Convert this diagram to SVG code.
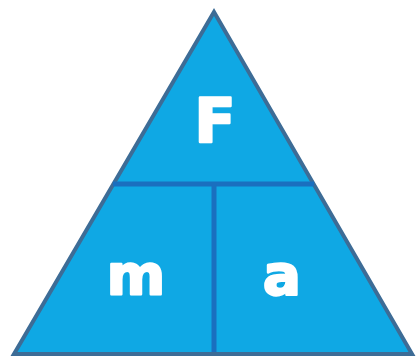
<svg xmlns="http://www.w3.org/2000/svg" width="419" height="356" viewBox="0 0 419 356">
<style>
.part{fill:#0FA8E4;}
.lbl{font-family:"DejaVu Sans",sans-serif;font-weight:bold;fill:#FFFFFF;stroke:#FFFFFF;stroke-width:2.5;stroke-linejoin:round;text-anchor:middle;}
.div{stroke:#1A6FBF;stroke-width:5;fill:none;}
</style>
<rect width="419" height="356" fill="#FFFFFF"/>
<g id="triangle">
<polygon class="part" points="214,12 412,354 14,354" stroke="#3D6C96" stroke-width="4" stroke-linejoin="miter"/>
</g>
<g id="connectors">
<line class="div" x1="113" y1="184" x2="314" y2="184"/>
<line class="div" x1="214" y1="184" x2="214" y2="354"/>
<line x1="14" y1="354" x2="412" y2="354" stroke="#3D6C96" stroke-width="4"/>
</g>
<g id="node-F"><text class="lbl" x="215" y="142" font-size="60">F</text></g>
<g id="node-m"><text class="lbl" x="136" y="294" font-size="56">m</text></g>
<g id="node-a"><text class="lbl" x="282" y="294" font-size="56">a</text></g>
</svg>
